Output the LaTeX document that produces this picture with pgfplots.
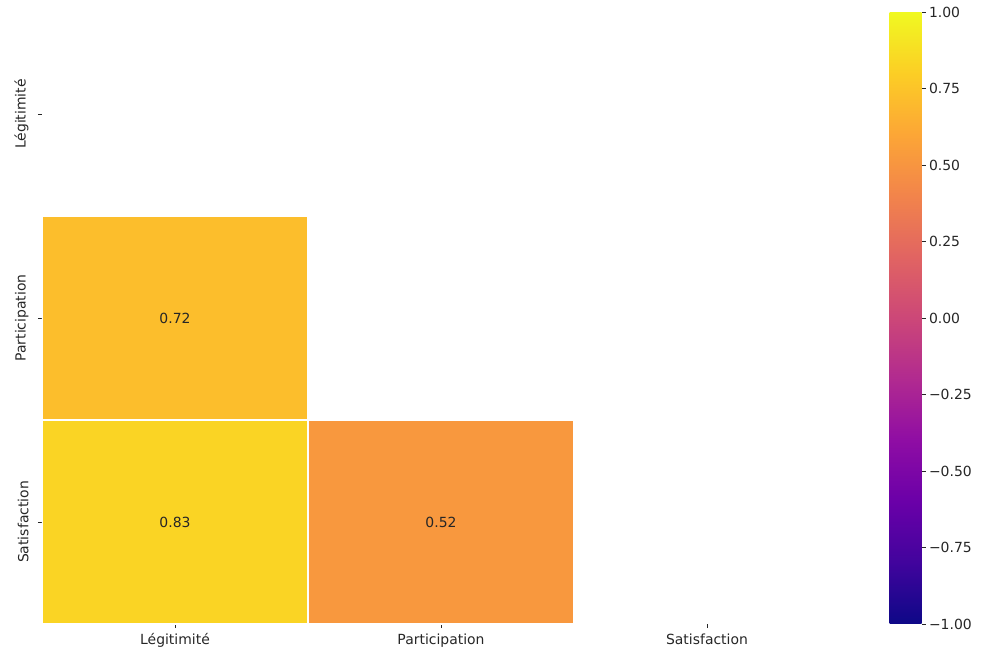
\documentclass[border=0pt]{standalone}
\usepackage{pgfplots}
\pgfplotsset{compat=1.18}
\usepackage{fontspec}
\setmainfont{DejaVu Sans}
\pgfplotsset{colormap={plasma}{rgb255=(13,8,135) rgb255=(65,4,157) rgb255=(106,0,168) rgb255=(143,13,164) rgb255=(177,42,144) rgb255=(204,71,120) rgb255=(225,100,98) rgb255=(242,132,75) rgb255=(252,166,54) rgb255=(252,206,37) rgb255=(240,249,33)}}
\definecolor{txt}{HTML}{262626}
\begin{document}
\begin{tikzpicture}[font=\fontsize{14}{17}\selectfont]
\begin{axis}[
  at={(0,0)}, anchor=south west,
  scale only axis, width=798bp, height=612bp,
  xmin=-0.5, xmax=2.5, ymin=-0.5, ymax=2.5,
  axis line style={draw=none},
  xtick={0,1,2}, xticklabels={Légitimité,Participation,Satisfaction},
  ytick={0,1,2}, yticklabels={Satisfaction,Participation,Légitimité},
  tick align=outside, major tick length=4bp,
  tick style={color=txt, line width=0.8bp},
  xtick pos=left, ytick pos=left,
  tick label style={font=\fontsize{14}{17}\selectfont, text=txt},
  xticklabel style={yshift=-2bp},
  yticklabel style={xshift=-6bp, rotate=90, anchor=south},
  point meta min=-1, point meta max=1,
  colormap name=plasma,
  colorbar,
  colorbar/width=32bp,
  colorbar style={
    at={(parent axis.north east)}, anchor=north west, xshift=41bp,
    width=32bp,
    ytick={-1,-0.75,-0.5,-0.25,0,0.25,0.5,0.75,1},
    yticklabels={−1.00,−0.75,−0.50,−0.25,0.00,0.25,0.50,0.75,1.00},
    yticklabel pos=right, ytick pos=right,
    tick align=outside, major tick length=4bp,
    axis line style={draw=none},
    tick style={color=txt, line width=0.8bp},
    tick label style={font=\fontsize{14}{17}\selectfont, text=txt},
  },
]
\addplot[patch, patch type=rectangle, shader=faceted, faceted color=white, line width=1.5bp, point meta=explicit]
table[x=x, y=y, meta=c] {
x y c
-0.5 0.5 0.72
0.5 0.5 0.72
0.5 1.5 0.72
-0.5 1.5 0.72
-0.5 -0.5 0.83
0.5 -0.5 0.83
0.5 0.5 0.83
-0.5 0.5 0.83
0.5 -0.5 0.52
1.5 -0.5 0.52
1.5 0.5 0.52
0.5 0.5 0.52
};
\node[text=txt] at (axis cs:0,1) {0.72};
\node[text=txt] at (axis cs:0,0) {0.83};
\node[text=txt] at (axis cs:1,0) {0.52};
\end{axis}
\path (-42bp,-32bp) rectangle (943bp,624bp);
\end{tikzpicture}
\end{document}
